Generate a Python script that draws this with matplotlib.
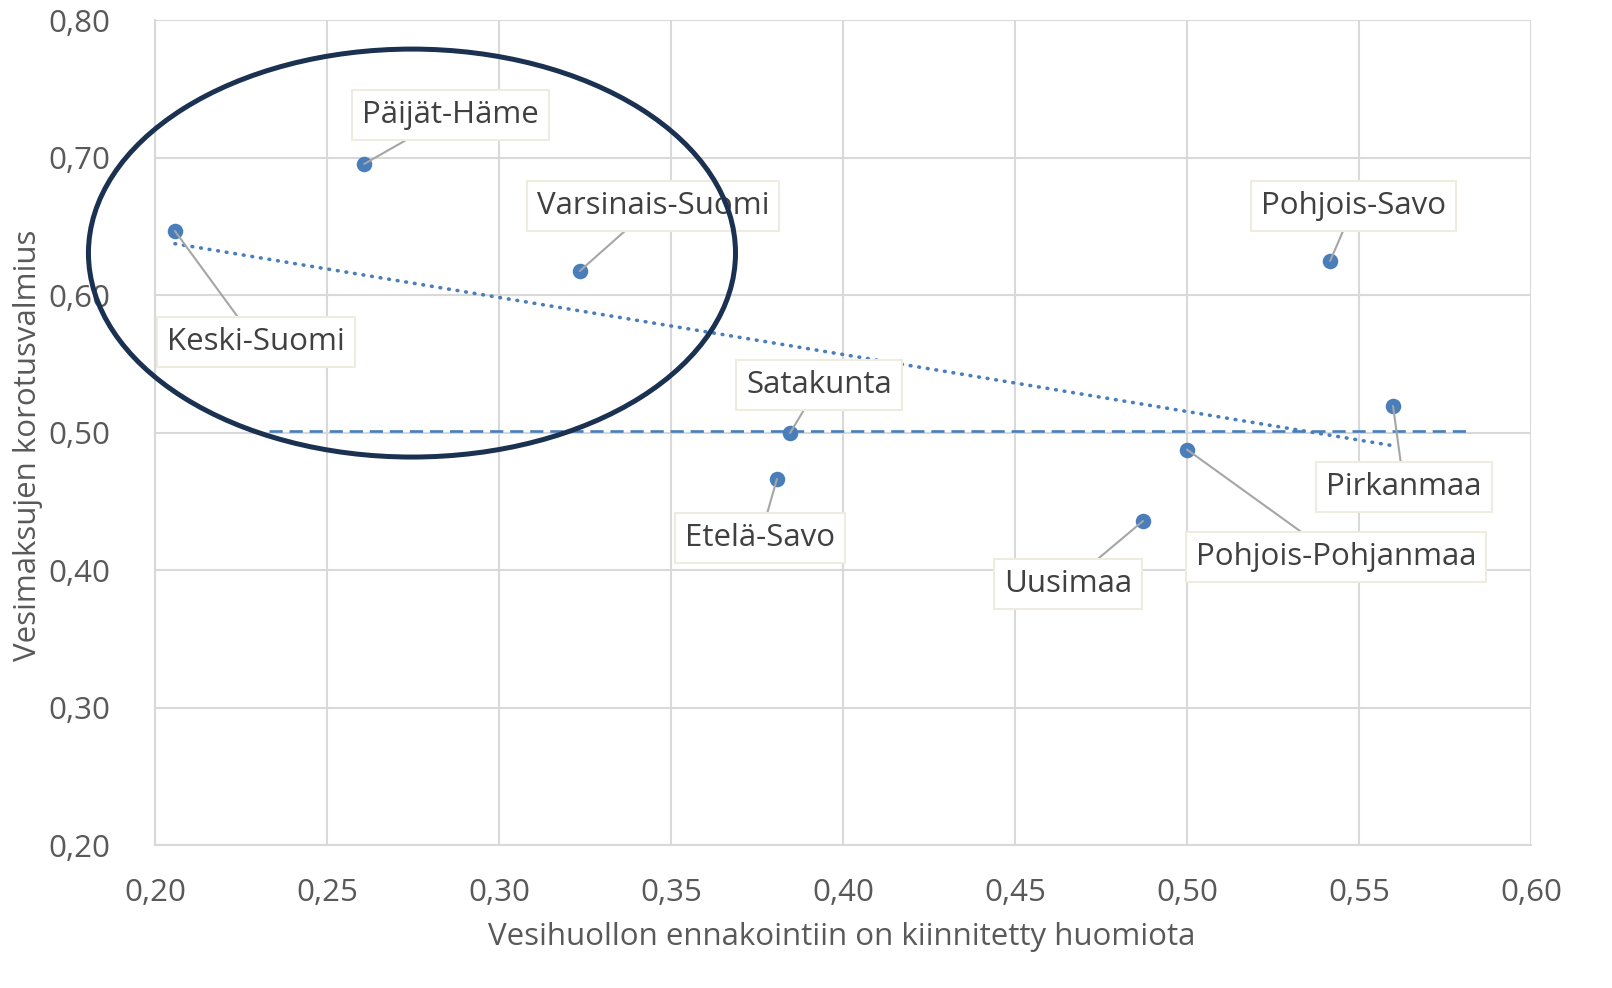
import numpy as np
import matplotlib
matplotlib.use("Agg")
import matplotlib.pyplot as plt
from matplotlib.patches import Ellipse

# ---- data ----
regions = ["Keski-Suomi", "Päijät-Häme", "Varsinais-Suomi", "Satakunta", "Etelä-Savo",
           "Uusimaa", "Pohjois-Pohjanmaa", "Pohjois-Savo", "Pirkanmaa"]
x_vals = [0.2058, 0.2608, 0.3235, 0.3846, 0.3808, 0.4872, 0.5000, 0.5416, 0.5599]
y_vals = [0.6465, 0.6953, 0.6175, 0.4996, 0.4662, 0.4356, 0.4876, 0.6247, 0.5193]
ref_level = 0.501
ref_x_range = [0.233, 0.5815]
x_ticks = [0.20, 0.25, 0.30, 0.35, 0.40, 0.45, 0.50, 0.55, 0.60]
y_ticks = [0.20, 0.30, 0.40, 0.50, 0.60, 0.70, 0.80]
x_title = "Vesihuollon ennakointiin on kiinnitetty huomiota"
y_title = "Vesimaksujen korotusvalmius"

# ---- layout (label centres, data coords) ----
label_pos = {
    "Keski-Suomi": (0.2294, 0.5658),
    "Päijät-Häme": (0.2858, 0.7309),
    "Varsinais-Suomi": (0.3448, 0.6647),
    "Satakunta": (0.3930, 0.5345),
    "Etelä-Savo": (0.3759, 0.4233),
    "Uusimaa": (0.4654, 0.3898),
    "Pohjois-Pohjanmaa": (0.5433, 0.4095),
    "Pohjois-Savo": (0.5485, 0.6647),
    "Pirkanmaa": (0.5631, 0.4604),
}

plt.rcParams['font.family'] = ['Open Sans', 'DejaVu Sans']
FS = 22.5

fig = plt.figure(figsize=(16.12, 9.88), dpi=100)
ax = fig.add_axes([155/1612, 1-845/988, (1531-155)/1612, (845-20)/988])

ax.set_xlim(0.20, 0.60)
ax.set_ylim(0.20, 0.80)
ax.set_xticks(x_ticks)
ax.set_yticks(y_ticks)
ax.set_xticklabels([f"{v:.2f}".replace(".", ",") for v in x_ticks])
ax.set_yticklabels([f"{v:.2f}".replace(".", ",") for v in y_ticks])
ax.tick_params(axis='both', length=0, labelsize=FS, labelcolor='#595959')
ax.tick_params(axis='x', pad=24)
ax.tick_params(axis='y', pad=32)
ax.grid(True, color='#d9d9d9', linewidth=1.5)
ax.set_axisbelow(True)
for s in ax.spines.values():
    s.set_visible(False)
for side in ('bottom', 'left'):
    ax.spines[side].set_visible(True)
    ax.spines[side].set_color('#d9d9d9')
    ax.spines[side].set_linewidth(1.5)

ax.set_xlabel(x_title, fontsize=FS, color='#595959')
ax.set_ylabel(y_title, fontsize=FS, color='#595959')
ax.xaxis.set_label_coords(0.4993, -0.093)
ax.yaxis.set_label_coords(-0.0815, 0.485)

blue = '#4a7ebb'
# reference dashed line
ax.plot(ref_x_range, [ref_level, ref_level], color=blue, linestyle=(0, (5, 2.6)), linewidth=1.9, zorder=3)

# linear trend
coef = np.polyfit(x_vals, y_vals, 1)
tx = np.array([min(x_vals), max(x_vals)])
ax.plot(tx, np.polyval(coef, tx), color=blue, linestyle=(0, (0.2, 2.2)), linewidth=2.6,
        dash_capstyle='round', zorder=3)

# points
ax.scatter(x_vals, y_vals, s=125, color=blue, zorder=5, linewidths=0)

# labels
for name, xv, yv in zip(regions, x_vals, y_vals):
    lx, ly = label_pos[name]
    ax.annotate(name, xy=(xv, yv), xytext=(lx, ly), textcoords='data',
                ha='center', va='center', fontsize=FS, color='#404040',
                bbox=dict(boxstyle='square,pad=0.32', facecolor='white', edgecolor='#eeebe0', linewidth=1.5),
                arrowprops=dict(arrowstyle='-', color='#a6a6a6', linewidth=1.5, shrinkA=0, shrinkB=0),
                zorder=6)

# highlight ellipse
ell = Ellipse((0.2747, 0.6305), width=0.1881, height=0.2967, fill=False,
              edgecolor='#1b3152', linewidth=3.6, zorder=7, clip_on=False)
ax.add_patch(ell)

fig.savefig("out.png", dpi=100)
